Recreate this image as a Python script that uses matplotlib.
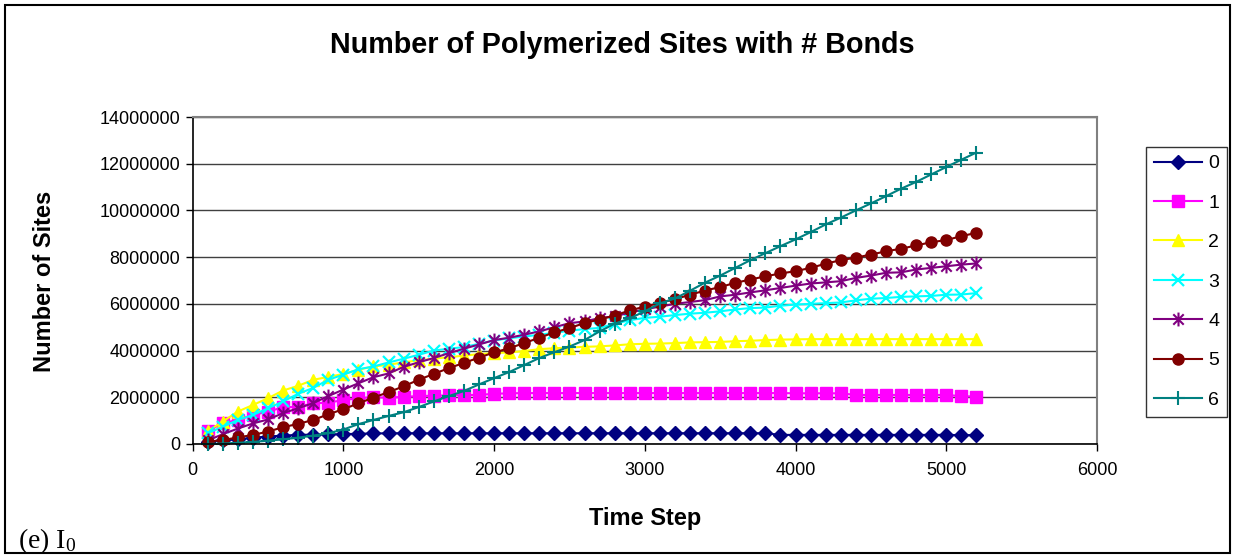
import matplotlib
matplotlib.use("Agg")
import matplotlib.pyplot as plt
from matplotlib.path import Path
from matplotlib.patches import Rectangle

time_steps = [100, 200, 300, 400, 500, 600, 700, 800, 900, 1000,
              1100, 1200, 1300, 1400, 1500, 1600, 1700, 1800, 1900, 2000,
              2100, 2200, 2300, 2400, 2500, 2600, 2700, 2800, 2900, 3000,
              3100, 3200, 3300, 3400, 3500, 3600, 3700, 3800, 3900, 4000,
              4100, 4200, 4300, 4400, 4500, 4600, 4700, 4800, 4900, 5000,
              5100, 5200]

# values in millions of sites
bonds0 = [0.10, 0.15, 0.20, 0.27, 0.32, 0.36, 0.39, 0.40, 0.41, 0.42,
          0.44, 0.45, 0.46, 0.46, 0.46, 0.46, 0.46, 0.46, 0.46, 0.46,
          0.46, 0.46, 0.46, 0.46, 0.46, 0.46, 0.46, 0.46, 0.46, 0.46,
          0.46, 0.46, 0.46, 0.46, 0.46, 0.46, 0.46, 0.46, 0.39, 0.39,
          0.39, 0.39, 0.39, 0.39, 0.39, 0.39, 0.39, 0.39, 0.39, 0.39,
          0.38, 0.38]
bonds1 = [0.56, 0.89, 1.03, 1.24, 1.39, 1.57, 1.59, 1.74, 1.77, 1.88,
          1.96, 2.00, 1.98, 2.02, 2.05, 2.07, 2.08, 2.10, 2.10, 2.15,
          2.17, 2.18, 2.18, 2.18, 2.18, 2.18, 2.18, 2.18, 2.18, 2.18,
          2.18, 2.18, 2.18, 2.18, 2.18, 2.18, 2.18, 2.18, 2.18, 2.17,
          2.17, 2.17, 2.17, 2.10, 2.10, 2.10, 2.10, 2.10, 2.10, 2.10,
          2.05, 2.03]
bonds2 = [0.55, 0.96, 1.39, 1.67, 1.96, 2.29, 2.49, 2.75, 2.87, 3.00,
          3.18, 3.32, 3.39, 3.50, 3.58, 3.65, 3.72, 3.78, 3.85, 3.89,
          3.92, 3.98, 4.06, 4.10, 4.13, 4.16, 4.18, 4.22, 4.27, 4.29,
          4.30, 4.32, 4.35, 4.36, 4.37, 4.40, 4.42, 4.45, 4.47, 4.48,
          4.49, 4.49, 4.49, 4.49, 4.49, 4.49, 4.49, 4.49, 4.49, 4.49,
          4.49, 4.49]
bonds3 = [0.46, 0.74, 1.03, 1.24, 1.53, 1.82, 2.15, 2.40, 2.75, 2.97,
          3.20, 3.32, 3.49, 3.65, 3.82, 4.00, 4.08, 4.15, 4.29, 4.43,
          4.53, 4.60, 4.68, 4.76, 4.85, 4.92, 4.97, 5.15, 5.30, 5.40,
          5.45, 5.52, 5.58, 5.62, 5.68, 5.76, 5.82, 5.84, 5.92, 5.97,
          6.00, 6.03, 6.06, 6.15, 6.22, 6.25, 6.30, 6.32, 6.34, 6.39,
          6.40, 6.46]
bonds4 = [0.15, 0.42, 0.66, 0.88, 1.05, 1.32, 1.53, 1.75, 2.05, 2.33,
          2.60, 2.86, 3.02, 3.30, 3.50, 3.68, 3.89, 4.08, 4.26, 4.45,
          4.55, 4.68, 4.82, 5.00, 5.17, 5.25, 5.39, 5.47, 5.62, 5.77,
          5.88, 6.00, 6.08, 6.16, 6.32, 6.39, 6.49, 6.58, 6.68, 6.78,
          6.87, 6.92, 6.97, 7.11, 7.21, 7.33, 7.35, 7.47, 7.54, 7.61,
          7.68, 7.73]
bonds5 = [0.10, 0.17, 0.28, 0.39, 0.53, 0.72, 0.86, 1.03, 1.27, 1.49,
          1.74, 1.99, 2.22, 2.47, 2.75, 3.00, 3.25, 3.47, 3.70, 3.92,
          4.10, 4.32, 4.55, 4.78, 4.96, 5.18, 5.33, 5.50, 5.72, 5.88,
          6.04, 6.20, 6.39, 6.57, 6.72, 6.90, 7.04, 7.18, 7.30, 7.40,
          7.54, 7.72, 7.87, 7.98, 8.11, 8.25, 8.36, 8.50, 8.64, 8.73,
          8.90, 9.04]
bonds6 = [0.00, 0.02, 0.05, 0.09, 0.14, 0.20, 0.27, 0.36, 0.46, 0.62,
          0.85, 1.03, 1.20, 1.36, 1.58, 1.82, 2.05, 2.27, 2.55, 2.82,
          3.08, 3.38, 3.68, 3.93, 4.17, 4.45, 4.82, 5.15, 5.38, 5.68,
          6.02, 6.23, 6.56, 6.91, 7.21, 7.54, 7.87, 8.17, 8.47, 8.76,
          9.07, 9.40, 9.69, 10.00, 10.30, 10.61, 10.93, 11.22, 11.54, 11.86,
          12.17, 12.48]

series_labels = ["0", "1", "2", "3", "4", "5", "6"]
x_ticks = [0, 1000, 2000, 3000, 4000, 5000, 6000]
y_ticks = [0, 2000000, 4000000, 6000000, 8000000, 10000000, 12000000, 14000000]

title = "Number of Polymerized Sites with # Bonds"
xlabel = "Time Step"
ylabel = "Number of Sites"

# Excel-like asterisk marker: vertical bar + X
ast = Path([(0, -1), (0, 1), (-0.75, -0.75), (0.75, 0.75), (-0.75, 0.75), (0.75, -0.75)],
           [Path.MOVETO, Path.LINETO, Path.MOVETO, Path.LINETO, Path.MOVETO, Path.LINETO])

styles = [
    dict(color="#000080", marker="D", ms=7, mec="#000080", mfc="#000080"),
    dict(color="#FF00FF", marker="s", ms=8, mec="#FF00FF", mfc="#FF00FF"),
    dict(color="#FFFF00", marker="^", ms=9, mec="#FFFF00", mfc="#FFFF00"),
    dict(color="#00FFFF", marker="x", ms=8, mew=1.6, mec="#00FFFF"),
    dict(color="#800080", marker=ast, ms=10, mew=1.5, mec="#800080", mfc="none"),
    dict(color="#800000", marker="o", ms=8, mec="#800000", mfc="#800000"),
    dict(color="#008080", marker="+", ms=10, mew=1.5, mec="#008080"),
]

plt.rcParams["font.family"] = ["Liberation Sans", "DejaVu Sans"]
plt.rcParams["mathtext.fontset"] = "custom"
plt.rcParams["mathtext.rm"] = "Liberation Serif"
plt.rcParams["mathtext.it"] = "Liberation Serif:italic"

fig = plt.figure(figsize=(12.35, 5.58), dpi=100)
fig.patch.set_facecolor("white")
ax = fig.add_axes([192.6 / 1235, 1 - 444 / 558, (1097 - 192.6) / 1235, (444 - 117) / 558])

all_series = [bonds0, bonds1, bonds2, bonds3, bonds4, bonds5, bonds6]
for lab, vals, st in zip(series_labels, all_series, styles):
    ax.plot(time_steps, [v * 1e6 for v in vals], lw=1.5, label=lab, clip_on=False, **st)

ax.set_xlim(0, 6000)
ax.set_ylim(0, 14000000)
ax.set_xticks(x_ticks)
ax.set_yticks(y_ticks)
ax.set_xticklabels([str(t) for t in x_ticks])
ax.set_yticklabels([str(t) for t in y_ticks])
ax.tick_params(axis="both", labelsize=13, direction="out", length=5, width=1, color="black")
ax.tick_params(axis="x", pad=8)
ax.tick_params(axis="y", pad=4)
ax.yaxis.grid(True, color="#404040", lw=1)
ax.set_axisbelow(True)
for s in ["left", "bottom"]:
    ax.spines[s].set_color("black")
    ax.spines[s].set_linewidth(1.2)
for s in ["top", "right"]:
    ax.spines[s].set_color("#808080")
    ax.spines[s].set_linewidth(1.5)

ax.set_xlabel(xlabel, fontsize=17, fontweight="bold")
ax.set_ylabel(ylabel, fontsize=17, fontweight="bold")
ax.xaxis.set_label_coords((645 - 192.6) / 904.4, (444 - 519) / 327)
ax.yaxis.set_label_coords((45 - 192.6) / 904.4, (444 - 281) / 327)
ax.xaxis.label.set_va("center")
ax.yaxis.label.set_va("center")

fig.text(622 / 1235, 1 - 45 / 558, title, fontsize=20.7, fontweight="bold",
         ha="center", va="center")

leg = fig.legend(loc="upper left", bbox_to_anchor=(1146 / 1235, 1 - 147 / 558),
                 fontsize=14, frameon=True, fancybox=False, edgecolor="black",
                 borderpad=0.4, labelspacing=1.12, handlelength=2.5,
                 handletextpad=0.3, borderaxespad=0)
leg.get_frame().set_linewidth(1.0)

fig.text(18 / 1235, 1 - 548 / 558, r"(e) I$_0$", fontsize=20, family="Liberation Serif",
         ha="left", va="baseline")

fig.patches.append(Rectangle((5 / 1235, 5 / 558), 1 - 10 / 1235, 1 - 10 / 558,
                             transform=fig.transFigure, fill=False,
                             edgecolor="black", lw=1.5))

fig.savefig("out.png", dpi=100, facecolor="white")
